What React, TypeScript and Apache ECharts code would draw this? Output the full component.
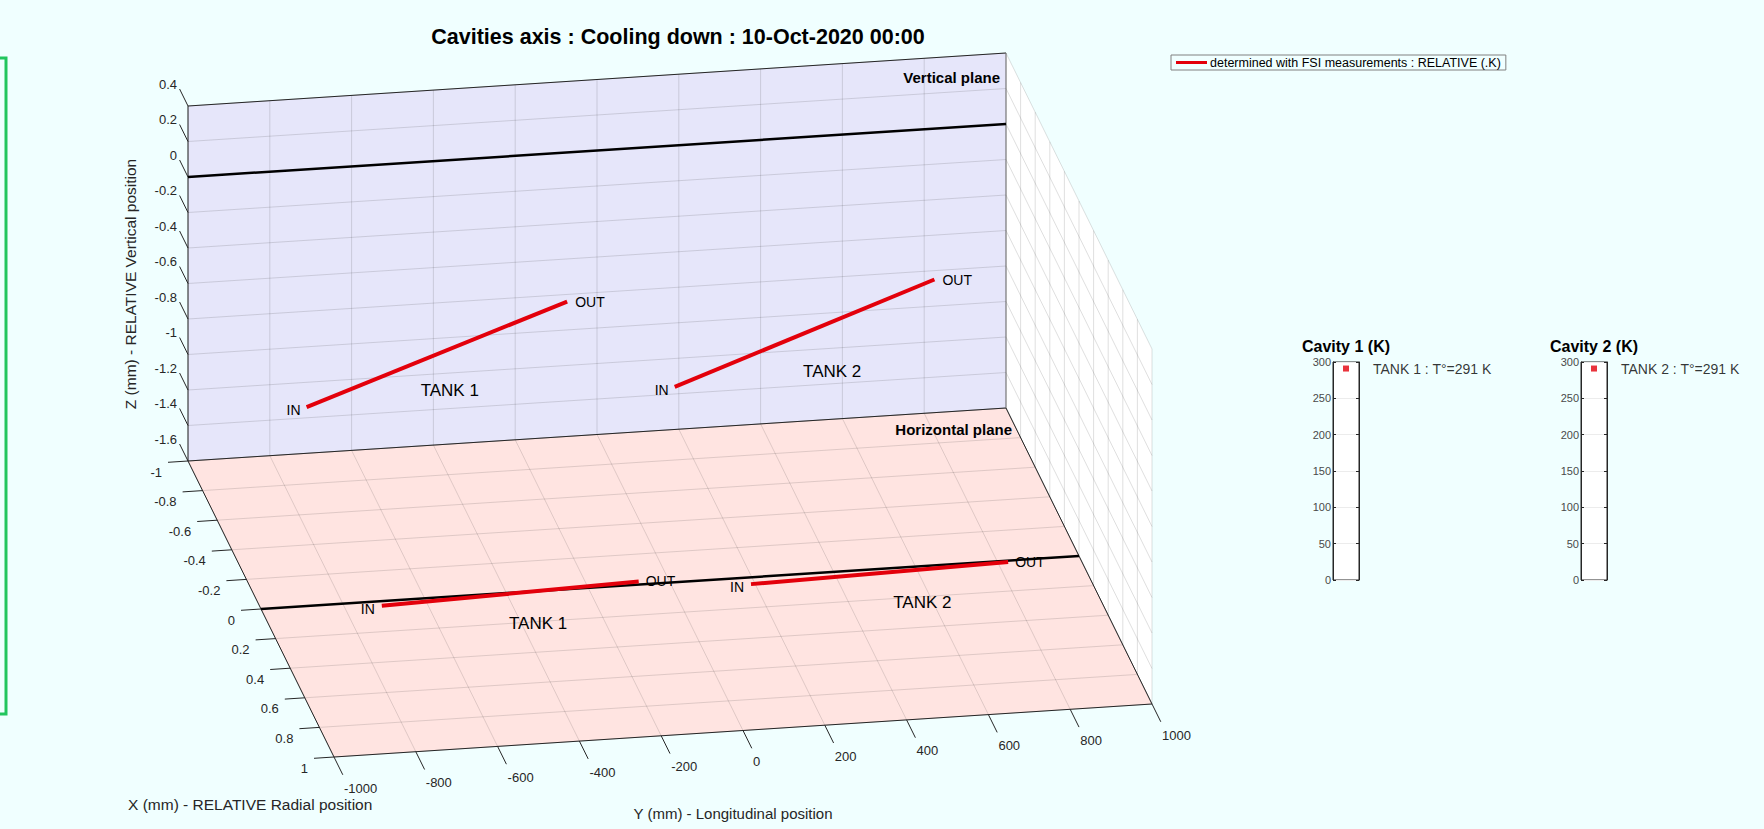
import React, { useEffect, useRef } from 'react';
import * as echarts from 'echarts';

// ---------------- data ----------------
const X_TICKS = [-1, -0.8, -0.6, -0.4, -0.2, 0, 0.2, 0.4, 0.6, 0.8, 1];
const X_TICK_LABELS = ['-1', '-0.8', '-0.6', '-0.4', '-0.2', '0', '0.2', '0.4', '0.6', '0.8', '1'];
const Y_TICKS = [-1000, -800, -600, -400, -200, 0, 200, 400, 600, 800, 1000];
const Y_TICK_LABELS = ['-1000', '-800', '-600', '-400', '-200', '0', '200', '400', '600', '800', '1000'];
const Z_TICKS = [-1.6, -1.4, -1.2, -1, -0.8, -0.6, -0.4, -0.2, 0, 0.2, 0.4];
const Z_TICK_LABELS = ['-1.6', '-1.4', '-1.2', '-1', '-0.8', '-0.6', '-0.4', '-0.2', '0', '0.2', '0.4'];

const TANKS = ['TANK 1', 'TANK 2'];
const TANK_Y_IN = [-710, 190];
const TANK_Y_OUT = [-73, 825];
const TANK_Z_IN = [-1.34, -1.36];
const TANK_Z_OUT = [-0.84, -0.85];
const TANK_X_IN = [0.03, 0.045];
const TANK_X_OUT = [-0.02, 0.01];

const CAVITIES = ['Cavity 1 (K)', 'Cavity 2 (K)'];
const CAVITY_TEMPS = [291, 291];
const TEMP_MIN = 0;
const TEMP_MAX = 300;
const TEMP_STEP = 50;

const REF_Z = 0; // reference axis on vertical plane
const REF_X = 0; // reference axis on horizontal plane

const FSI_NAME = 'determined with FSI measurements : RELATIVE (.K)';
const TITLE = 'Cavities axis : Cooling down : 10-Oct-2020 00:00';

// ---------------- layout / style ----------------
const W = 1764;
const H = 829;
const BG = '#F0FFFF';
const RED = '#e3000b';
const AXIS_COLOR = '#262626';
const GRID_COLOR = 'rgba(38,38,38,0.15)';
const FONT = '"Liberation Sans", Arial, Helvetica, sans-serif';

const XR = [X_TICKS[0], X_TICKS[X_TICKS.length - 1]];
const YR = [Y_TICKS[0], Y_TICKS[Y_TICKS.length - 1]];
const ZR = [Z_TICKS[0], Z_TICKS[Z_TICKS.length - 1]];

// projection of the 3-D box onto the page
const ORIGIN = [188, 461];
const EX = [146, 296];
const EY = [818, -53];
const EZ = [0, -355];

function P(x: number, y: number, z: number): [number, number] {
  const a = (y - YR[0]) / (YR[1] - YR[0]);
  const b = (x - XR[0]) / (XR[1] - XR[0]);
  const c = (z - ZR[0]) / (ZR[1] - ZR[0]);
  return [
    ORIGIN[0] + a * EY[0] + b * EX[0] + c * EZ[0],
    ORIGIN[1] + a * EY[1] + b * EX[1] + c * EZ[1],
  ];
}
const add = (p: [number, number], dx: number, dy: number): [number, number] => [p[0] + dx, p[1] + dy];

// text positions for the tank names (3-D)
const TANK_LABEL_Y = [-360, 575];
const TANK_LABEL_Z = [-1.3, -1.33];
const TANK_LABEL_X = [0.21, 0.235];

type Seg = { a: [number, number]; b: [number, number]; color: string; w: number };
type Lbl = { p: [number, number]; text: string; align: string; valign: string; font: string; color: string };

function segSeries(id: string, segs: Seg[], z: number, name?: string, color?: string) {
  return {
    type: 'custom',
    id,
    name,
    coordinateSystem: 'cartesian2d',
    xAxisIndex: 0,
    yAxisIndex: 0,
    clip: false,
    silent: true,
    z,
    itemStyle: color ? { color } : undefined,
    data: segs.map((s) => [s.a[0], s.a[1], s.b[0], s.b[1]]),
    renderItem: (params: any, api: any) => {
      const s = segs[params.dataIndex];
      const p1 = api.coord([api.value(0), api.value(1)]);
      const p2 = api.coord([api.value(2), api.value(3)]);
      return {
        type: 'line',
        shape: { x1: p1[0], y1: p1[1], x2: p2[0], y2: p2[1] },
        style: { stroke: s.color, lineWidth: s.w, fill: null },
      };
    },
  };
}

function textSeries(id: string, labels: Lbl[], z: number) {
  return {
    type: 'custom',
    id,
    coordinateSystem: 'cartesian2d',
    xAxisIndex: 0,
    yAxisIndex: 0,
    clip: false,
    silent: true,
    z,
    data: labels.map((l) => [l.p[0], l.p[1]]),
    renderItem: (params: any, api: any) => {
      const l = labels[params.dataIndex];
      const p = api.coord([api.value(0), api.value(1)]);
      return {
        type: 'text',
        x: p[0],
        y: p[1],
        style: {
          text: l.text,
          textAlign: l.align,
          textVerticalAlign: l.valign,
          font: l.font,
          fill: l.color,
        },
      };
    },
  };
}

function buildOption() {
  // walls
  const walls = [
    { pts: [P(XR[0], YR[0], ZR[0]), P(XR[0], YR[1], ZR[0]), P(XR[0], YR[1], ZR[1]), P(XR[0], YR[0], ZR[1])], fill: '#E6E6FA' },
    { pts: [P(XR[0], YR[0], ZR[0]), P(XR[0], YR[1], ZR[0]), P(XR[1], YR[1], ZR[0]), P(XR[1], YR[0], ZR[0])], fill: '#FFE4E1' },
    { pts: [P(XR[0], YR[1], ZR[0]), P(XR[1], YR[1], ZR[0]), P(XR[1], YR[1], ZR[1]), P(XR[0], YR[1], ZR[1])], fill: '#FFFFFF' },
  ];
  const wallSeries = {
    type: 'custom',
    id: 'walls',
    coordinateSystem: 'cartesian2d',
    xAxisIndex: 0,
    yAxisIndex: 0,
    clip: false,
    silent: true,
    z: 1,
    data: walls.map((w) => w.pts.flat()),
    renderItem: (params: any, api: any) => {
      const w = walls[params.dataIndex];
      const pts = [0, 1, 2, 3].map((k) => api.coord([api.value(2 * k), api.value(2 * k + 1)]));
      return { type: 'polygon', shape: { points: pts }, style: { fill: w.fill, stroke: null } };
    },
  };

  // grid lines
  const grid: Seg[] = [];
  const g = (a: [number, number], b: [number, number]) => grid.push({ a, b, color: GRID_COLOR, w: 1 });
  Z_TICKS.forEach((z) => g(P(XR[0], YR[0], z), P(XR[0], YR[1], z)));
  Y_TICKS.forEach((y) => g(P(XR[0], y, ZR[0]), P(XR[0], y, ZR[1])));
  Y_TICKS.forEach((y) => g(P(XR[0], y, ZR[0]), P(XR[1], y, ZR[0])));
  X_TICKS.forEach((x) => g(P(x, YR[0], ZR[0]), P(x, YR[1], ZR[0])));
  Z_TICKS.forEach((z) => g(P(XR[0], YR[1], z), P(XR[1], YR[1], z)));
  X_TICKS.forEach((x) => g(P(x, YR[1], ZR[0]), P(x, YR[1], ZR[1])));

  // box edges and ticks
  const edges: Seg[] = [];
  const e = (a: [number, number], b: [number, number], w = 1) => edges.push({ a, b, color: AXIS_COLOR, w });
  e(P(XR[0], YR[0], ZR[0]), P(XR[0], YR[0], ZR[1]));
  e(P(XR[0], YR[0], ZR[1]), P(XR[0], YR[1], ZR[1]));
  e(P(XR[0], YR[0], ZR[0]), P(XR[0], YR[1], ZR[0]));
  edges.push({ a: P(XR[0], YR[1], ZR[0]), b: P(XR[0], YR[1], ZR[1]), color: '#7a7a7a', w: 1 });
  e(P(XR[0], YR[0], ZR[0]), P(XR[1], YR[0], ZR[0]));
  e(P(XR[1], YR[0], ZR[0]), P(XR[1], YR[1], ZR[0]));
  e(P(XR[0], YR[1], ZR[0]), P(XR[1], YR[1], ZR[0]));

  const labels: Lbl[] = [];
  const tickFont = `13px ${FONT}`;
  Z_TICKS.forEach((z, i) => {
    const s = P(XR[0], YR[0], z);
    e(s, add(s, -8.4, -17));
    labels.push({ p: add(s, -11, -22), text: Z_TICK_LABELS[i], align: 'right', valign: 'middle', font: tickFont, color: AXIS_COLOR });
  });
  X_TICKS.forEach((x, i) => {
    const s = P(x, YR[0], ZR[0]);
    e(s, add(s, -20, 1.3));
    labels.push({ p: add(s, -26, 11), text: X_TICK_LABELS[i], align: 'right', valign: 'middle', font: tickFont, color: AXIS_COLOR });
  });
  Y_TICKS.forEach((y, i) => {
    const s = P(XR[1], y, ZR[0]);
    e(s, add(s, 8.8, 17.8));
    labels.push({ p: add(s, 10, 31), text: Y_TICK_LABELS[i], align: 'left', valign: 'middle', font: tickFont, color: AXIS_COLOR });
  });

  // reference (black) axes
  const refs: Seg[] = [
    { a: P(XR[0], YR[0], REF_Z), b: P(XR[0], YR[1], REF_Z), color: '#000', w: 2.5 },
    { a: P(REF_X, YR[0], ZR[0]), b: P(REF_X, YR[1], ZR[0]), color: '#000', w: 2.5 },
  ];

  // tanks measured by FSI
  const fsi: Seg[] = [];
  const tankLabels: Lbl[] = [];
  const ioFont = `14px ${FONT}`;
  const tankFont = `17px ${FONT}`;
  TANKS.forEach((t, i) => {
    const vIn = P(XR[0], TANK_Y_IN[i], TANK_Z_IN[i]);
    const vOut = P(XR[0], TANK_Y_OUT[i], TANK_Z_OUT[i]);
    const hIn = P(TANK_X_IN[i], TANK_Y_IN[i], ZR[0]);
    const hOut = P(TANK_X_OUT[i], TANK_Y_OUT[i], ZR[0]);
    fsi.push({ a: vIn, b: vOut, color: RED, w: 4 });
    fsi.push({ a: hIn, b: hOut, color: RED, w: 4 });
    tankLabels.push({ p: add(vIn, -6, 3), text: 'IN', align: 'right', valign: 'middle', font: ioFont, color: '#000' });
    tankLabels.push({ p: add(vOut, 8, 0), text: 'OUT', align: 'left', valign: 'middle', font: ioFont, color: '#000' });
    tankLabels.push({ p: add(hIn, -7, 3), text: 'IN', align: 'right', valign: 'middle', font: ioFont, color: '#000' });
    tankLabels.push({ p: add(hOut, 7, 0), text: 'OUT', align: 'left', valign: 'middle', font: ioFont, color: '#000' });
    tankLabels.push({ p: P(XR[0], TANK_LABEL_Y[i], TANK_LABEL_Z[i]), text: t, align: 'center', valign: 'middle', font: tankFont, color: '#000' });
    tankLabels.push({ p: P(TANK_LABEL_X[i], TANK_LABEL_Y[i], ZR[0]), text: t, align: 'center', valign: 'middle', font: tankFont, color: '#000' });
  });

  // gauges
  const gaugeLeft = [1333, 1581];
  const gaugeWidth = [26, 26];
  const gaugeTop = 362;
  const gaugeHeight = 218;

  const grids: any[] = [{ left: 0, top: 0, width: W, height: H, show: false }];
  const xAxes: any[] = [{ type: 'value', gridIndex: 0, min: 0, max: W, show: false }];
  const yAxes: any[] = [{ type: 'value', gridIndex: 0, min: 0, max: H, inverse: true, show: false }];
  const gaugeSeries: any[] = [];
  TANKS.forEach((t, i) => {
    grids.push({
      left: gaugeLeft[i], top: gaugeTop, width: gaugeWidth[i], height: gaugeHeight,
      show: true, backgroundColor: '#ffffff', borderColor: AXIS_COLOR, borderWidth: 1,
    });
    xAxes.push({ type: 'category', gridIndex: i + 1, data: [t], show: false });
    const yBase = {
      type: 'value', gridIndex: i + 1, min: TEMP_MIN, max: TEMP_MAX, interval: TEMP_STEP,
      axisLine: { show: true, lineStyle: { color: AXIS_COLOR, width: 1 } },
      axisTick: { show: true, inside: true, length: 3, lineStyle: { color: AXIS_COLOR } },
    };
    yAxes.push({
      ...yBase, position: 'left',
      axisLabel: { show: true, fontSize: 11, color: '#4a4a4a', margin: 2, fontFamily: FONT },
      splitLine: { show: true, lineStyle: { color: '#ececec' } },
    });
    yAxes.push({
      ...yBase, position: 'right',
      axisLabel: { show: false },
      splitLine: { show: false },
    });
    gaugeSeries.push({
      type: 'scatter',
      name: CAVITIES[i],
      xAxisIndex: i + 1,
      yAxisIndex: 1 + i * 2,
      symbol: 'rect',
      symbolSize: 6,
      itemStyle: { color: RED },
      silent: true,
      z: 5,
      label: {
        show: true, position: 'right', distance: 24,
        formatter: `${t} : T°=${CAVITY_TEMPS[i]} K`,
        fontSize: 14, color: '#000', fontFamily: FONT,
      },
      data: [[t, CAVITY_TEMPS[i]]],
    });
  });

  const graphics: any[] = [
    { type: 'rect', shape: { x: -20, y: 58, width: 26, height: 656 }, style: { fill: 'none', stroke: '#22c55e', lineWidth: 3 }, silent: true },
    { type: 'text', x: 678, y: 37, style: { text: TITLE, textAlign: 'center', textVerticalAlign: 'middle', font: `bold 21.5px ${FONT}`, fill: '#000' }, silent: true },
    { type: 'text', x: 130, y: 284, rotation: Math.PI / 2, style: { text: 'Z (mm) - RELATIVE Vertical position', textAlign: 'center', textVerticalAlign: 'middle', font: `15.5px ${FONT}`, fill: AXIS_COLOR }, silent: true },
    { type: 'text', x: 128, y: 804, style: { text: 'X (mm) - RELATIVE Radial position', textAlign: 'left', textVerticalAlign: 'middle', font: `15.5px ${FONT}`, fill: AXIS_COLOR }, silent: true },
    { type: 'text', x: 733, y: 813, style: { text: 'Y (mm) - Longitudinal position', textAlign: 'center', textVerticalAlign: 'middle', font: `15px ${FONT}`, fill: AXIS_COLOR }, silent: true },
    { type: 'text', x: 1000, y: 77, style: { text: 'Vertical plane', textAlign: 'right', textVerticalAlign: 'middle', font: `bold 15px ${FONT}`, fill: '#000' }, silent: true, z: 10 },
    { type: 'text', x: 1012, y: 429, style: { text: 'Horizontal plane', textAlign: 'right', textVerticalAlign: 'middle', font: `bold 15px ${FONT}`, fill: '#000' }, silent: true, z: 10 },
  ];
  CAVITIES.forEach((c, i) => {
    graphics.push({
      type: 'text', x: gaugeLeft[i] + gaugeWidth[i] / 2, y: 346,
      style: { text: c, textAlign: 'center', textVerticalAlign: 'middle', font: `bold 16px ${FONT}`, fill: '#000' },
      silent: true,
    });
  });

  return {
    animation: false,
    backgroundColor: BG,
    textStyle: { fontFamily: FONT },
    legend: {
      data: [{ name: FSI_NAME, icon: 'rect' }],
      left: 1171,
      top: 55,
      itemWidth: 31,
      itemHeight: 3,
      padding: [1, 5, 1, 5],
      borderColor: '#808080',
      borderWidth: 1,
      selectedMode: false,
      textStyle: { fontSize: 12.5, color: '#000', fontFamily: FONT, padding: [0, 0, 0, -2] },
    },
    grid: grids,
    xAxis: xAxes,
    yAxis: yAxes,
    graphic: graphics,
    series: [
      wallSeries,
      segSeries('grid', grid, 2),
      segSeries('edges', edges, 3),
      segSeries('refs', refs, 4),
      segSeries('fsi', fsi, 5, FSI_NAME, RED),
      textSeries('ticklabels', labels, 6),
      textSeries('tanklabels', tankLabels, 6),
      ...gaugeSeries,
    ],
  };
}

export default function App() {
  const ref = useRef<HTMLDivElement>(null);
  useEffect(() => {
    document.body.style.margin = '0';
    document.body.style.background = BG;
    const chart = echarts.init(ref.current as HTMLDivElement, null, { renderer: 'svg' });
    chart.setOption(buildOption() as any);
    return () => chart.dispose();
  }, []);
  return <div ref={ref} style={{ width: W, height: H }} />;
}
